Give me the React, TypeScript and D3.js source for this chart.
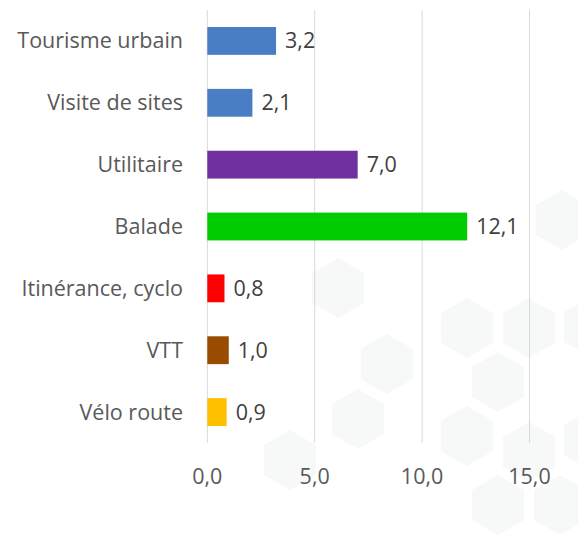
import React from "react";
import * as d3 from "d3";

const categories = ["Tourisme urbain", "Visite de sites", "Utilitaire", "Balade", "Itinérance, cyclo", "VTT", "Vélo route"];
const values = [3.2, 2.1, 7.0, 12.1, 0.8, 1.0, 0.9];
const colors = ["#4a7ec4", "#4a7ec4", "#7030a0", "#00cc00", "#ff0000", "#994c00", "#ffc000"];
const ticks = [0, 5, 10, 15];
const hexCenters: [number, number][] = [
  [338, 288], [387, 364], [358, 419], [467, 328], [529, 328], [498, 382],
  [467, 436], [529, 452], [590, 327], [498, 505], [560, 505], [290, 460], [562, 220], [590, 440],
];

const W = 578, H = 536;

export default function App() {
  const x = d3.scaleLinear().domain([0, 15]).range([207.3, 529.5]);
  const y = d3.scaleBand<string>().domain(categories).range([10, 443]).paddingInner(0.55).paddingOuter(0.275);
  const hex = (cx: number, cy: number, r: number) =>
    d3.range(6).map((i) => {
      const a = (Math.PI / 3) * i - Math.PI / 2;
      return [cx + r * Math.cos(a), cy + r * Math.sin(a)].join(",");
    }).join(" ");
  const font = "'Open Sans', sans-serif";
  const fs = 21.5;
  return (
    <svg width={W} height={H} style={{ position: "absolute", left: 0, top: 0, background: "#fff" }}>
      <rect width={W} height={H} fill="#fff" />
      {hexCenters.map(([cx, cy], i) => (
        <polygon key={i} points={hex(cx, cy, 30)} fill="#f7f8f8" />
      ))}
      {ticks.map((t) => (
        <line key={t} x1={x(t)} x2={x(t)} y1={10} y2={443} stroke="#d9d9d9" strokeWidth={1} />
      ))}
      {categories.map((c, i) => (
        <g key={c}>
          <rect x={x(0)} y={y(c)!} width={x(values[i]) - x(0)} height={y.bandwidth()} fill={colors[i]} />
          <text x={183} y={y(c)! + y.bandwidth() / 2} dy="0.35em" textAnchor="end" fontFamily={font} fontSize={fs} fill="#595959">{c}</text>
          <text x={x(values[i]) + 9} y={y(c)! + y.bandwidth() / 2} dy="0.35em" fontFamily={font} fontSize={fs} fill="#404040">{d3.format(".1f")(values[i]).replace(".", ",")}</text>
        </g>
      ))}
      {ticks.map((t) => (
        <text key={t} x={x(t)} y={476} dy="0.35em" textAnchor="middle" fontFamily={font} fontSize={fs} fill="#595959">{d3.format(".1f")(t).replace(".", ",")}</text>
      ))}
    </svg>
  );
}
